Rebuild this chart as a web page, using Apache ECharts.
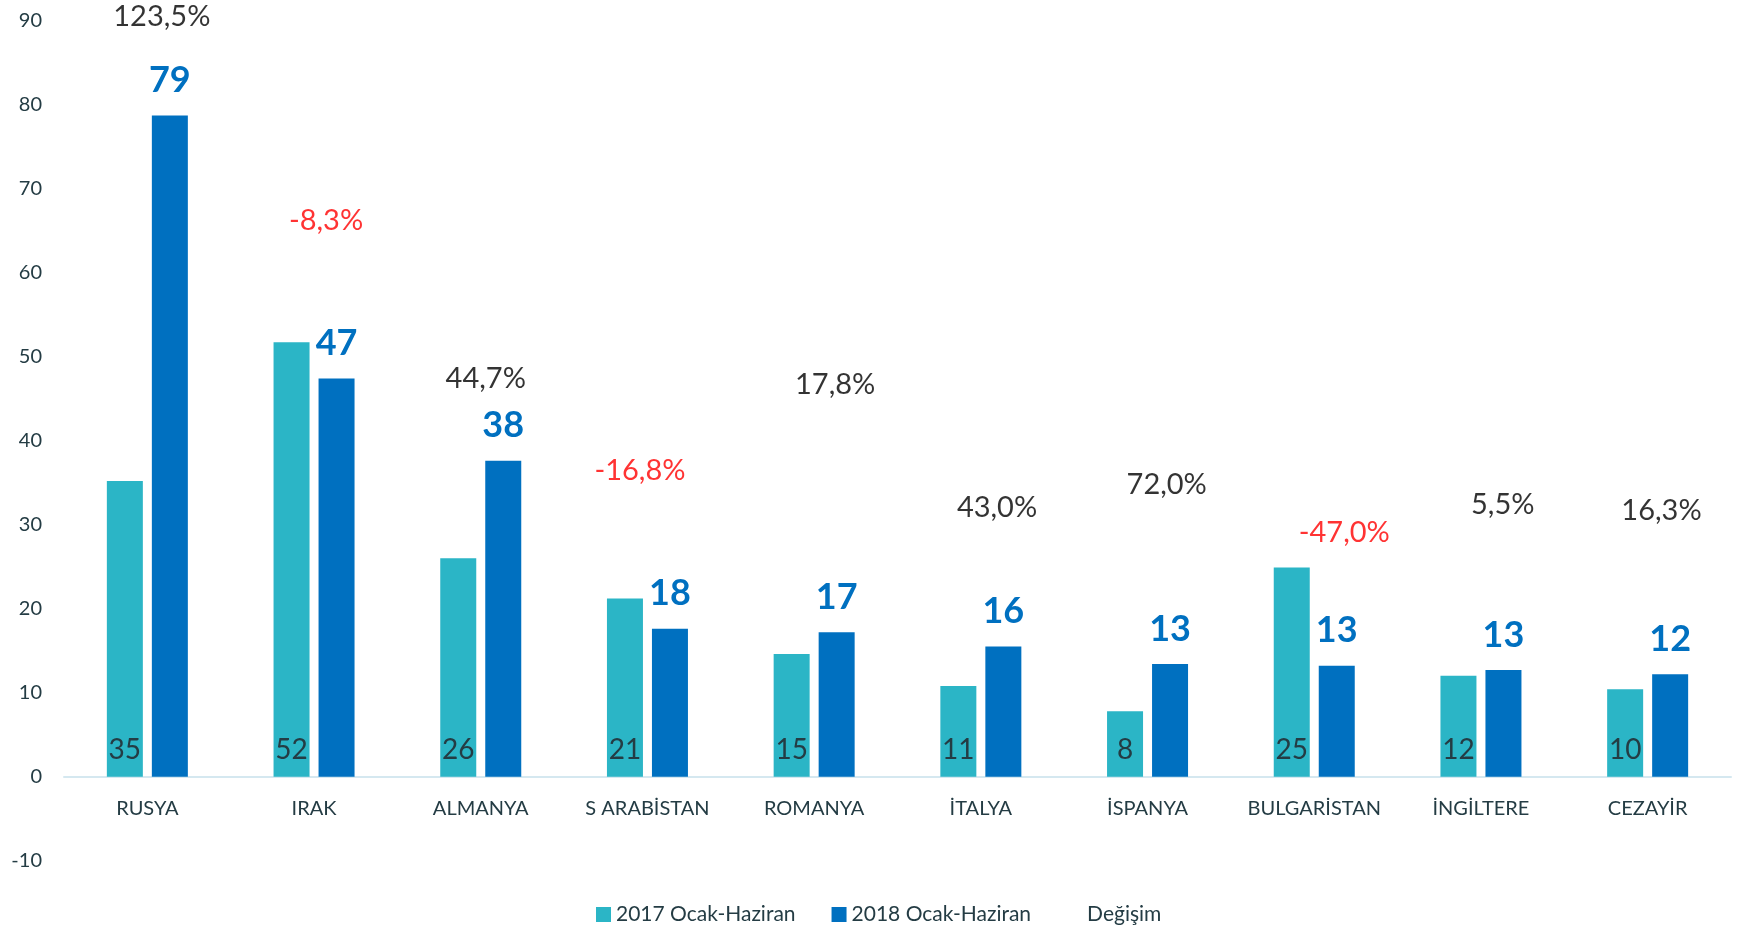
<!DOCTYPE html>
<html>
<head>
<meta charset="utf-8">
<script src="https://cdn.jsdelivr.net/npm/echarts@6/dist/echarts.min.js"></script>
<style>
  html, body { margin: 0; padding: 0; background: #fff; }
  #chart { width: 1739px; height: 928px; }
</style>
</head>
<body>
<div id="chart"></div>
<script>
// ülkeler
const countries = ['RUSYA', 'IRAK', 'ALMANYA', 'S ARABİSTAN', 'ROMANYA', 'İTALYA', 'İSPANYA', 'BULGARİSTAN', 'İNGİLTERE', 'CEZAYİR'];
// değerler (okunan)
const values2017 = [35.2, 51.7, 26.0, 21.2, 14.6, 10.8, 7.8, 24.9, 12.0, 10.4];
const values2018 = [78.7, 47.4, 37.6, 17.6, 17.2, 15.5, 13.4, 13.2, 12.7, 12.2];
const degisim = [123.5, -8.3, 44.7, -16.8, 17.8, 43.0, 72.0, -47.0, 5.5, 16.3];
// değişim etiketlerinin yeri (kategori sırası ve eksen birimi)
const degisimLabelX = [0.087, 1.072, 2.030, 2.955, 4.126, 5.097, 6.115, 7.180, 8.131, 9.083];
const degisimLabelY = [90.4, 66.2, 47.4, 36.4, 46.7, 32.0, 34.7, 29.1, 32.4, 31.7];
const yTicks = [-10, 90, 10];

const FONT = 'Lato, "Noto Sans", sans-serif';
const TEXT = '#243c44';

const chart = echarts.init(document.getElementById('chart'));

const option = {
  animation: false,
  backgroundColor: '#fff',
  textStyle: { fontFamily: FONT },
  grid: { left: 64, right: 8, top: 20.5, bottom: 67.3, containLabel: false },
  legend: {
    left: 591,
    top: 899,
    itemWidth: 15,
    itemHeight: 15,
    itemGap: 36,
    textStyle: { fontSize: 21, color: TEXT, fontFamily: FONT },
    data: [
      { name: '2017 Ocak-Haziran', icon: 'rect' },
      { name: '2018 Ocak-Haziran', icon: 'rect' },
      { name: 'Değişim', icon: 'rect' }
    ]
  },
  xAxis: [
    {
      type: 'category',
      data: countries,
      axisLine: { show: true, onZero: true, lineStyle: { color: '#d5e8f0', width: 2 } },
      axisTick: { show: false },
      axisLabel: { color: TEXT, fontSize: 20, margin: -62, fontFamily: FONT, interval: 0 },
      splitLine: { show: false }
    },
    {
      // değişim etiketleri için gizli eksen
      type: 'value',
      min: -0.5,
      max: countries.length - 0.5,
      show: false
    }
  ],
  yAxis: {
    type: 'value',
    min: yTicks[0],
    max: yTicks[1],
    interval: yTicks[2],
    axisLine: { show: false },
    axisTick: { show: false },
    splitLine: { show: false },
    axisLabel: { color: TEXT, fontSize: 20, margin: 22, fontFamily: FONT }
  },
  series: [
    {
      name: '2017 Ocak-Haziran',
      type: 'bar',
      data: values2017,
      barWidth: 36,
      barGap: '25%',
      itemStyle: { color: '#2bb5c6' },
      label: {
        show: true,
        position: 'insideBottom',
        distance: 13,
        fontSize: 28,
        color: TEXT,
        fontFamily: FONT,
        formatter: (p) => Math.round(p.value)
      },
      emphasis: { disabled: true }
    },
    {
      name: '2018 Ocak-Haziran',
      type: 'bar',
      data: values2018,
      barWidth: 36,
      itemStyle: { color: '#0070c0' },
      label: {
        show: true,
        position: 'top',
        distance: 17,
        fontSize: 36,
        fontWeight: 'bold',
        color: '#0070c0',
        fontFamily: FONT,
        formatter: (p) => Math.round(p.value)
      },
      emphasis: { disabled: true }
    },
    {
      name: 'Değişim',
      type: 'scatter',
      xAxisIndex: 1,
      symbolSize: 1,
      clip: false,
      itemStyle: { color: 'transparent' },
      data: degisim.map((v, i) => [degisimLabelX[i], degisimLabelY[i], v]),
      label: {
        show: true,
        position: 'inside',
        fontFamily: FONT,
        formatter: (p) => {
          const v = p.value[2];
          const s = v.toFixed(1).replace('.', ',') + '%';
          return v < 0 ? '{neg|' + s + '}' : '{pos|' + s + '}';
        },
        rich: {
          pos: { fontSize: 29, color: '#000000', fontFamily: FONT },
          neg: { fontSize: 29, color: '#ff0000', fontFamily: FONT }
        }
      },
      labelLayout: { hideOverlap: false },
      emphasis: { disabled: true }
    }
  ]
};

chart.setOption(option);
</script>
</body>
</html>
